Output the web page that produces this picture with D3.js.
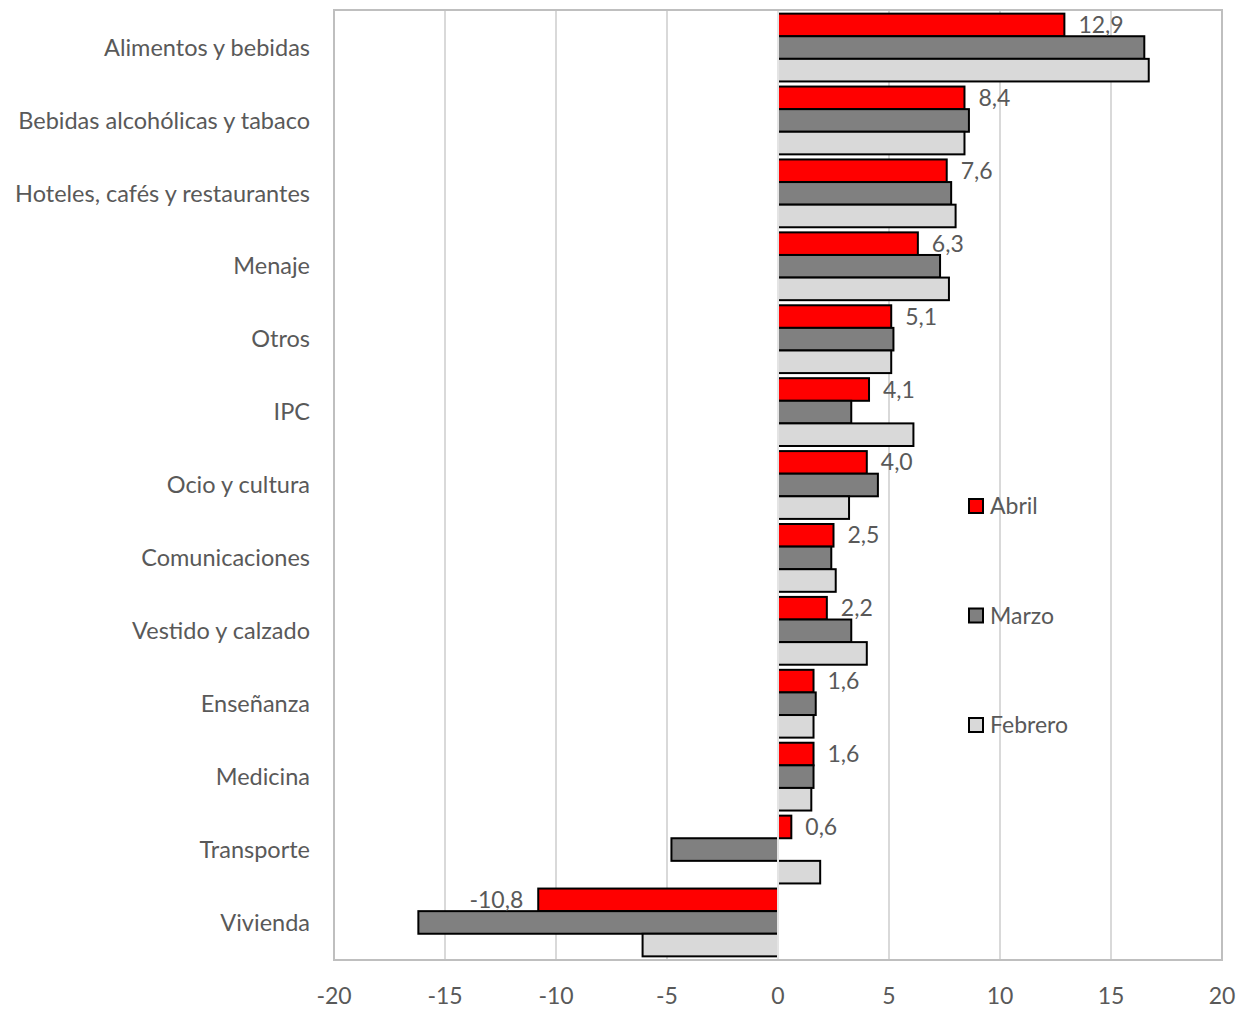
<!DOCTYPE html>
<html>
    <head>
        <meta charset="utf-8">
        <script src="https://d3js.org/d3.v7.min.js"></script>
        <style>
            body { margin: 0; background: #fff; overflow: hidden; }
            svg { display: block; }
            text { font-family: Lato, "Open Sans", sans-serif; fill: #595959; }
        </style>
    </head>
    <body>

        <script>
            var categories = ['Alimentos y bebidas', 'Bebidas alcohólicas y tabaco', 'Hoteles, cafés y restaurantes',
                              'Menaje', 'Otros', 'IPC', 'Ocio y cultura', 'Comunicaciones', 'Vestido y calzado',
                              'Enseñanza', 'Medicina', 'Transporte', 'Vivienda'];
            var abril   = [12.9, 8.4, 7.6, 6.3, 5.1, 4.1, 4.0, 2.5, 2.2, 1.6, 1.6, 0.6, -10.8];
            var marzo   = [16.5, 8.6, 7.8, 7.3, 5.2, 3.3, 4.5, 2.4, 3.3, 1.7, 1.6, -4.8, -16.2];
            var febrero = [16.7, 8.4, 8.0, 7.7, 5.1, 6.1, 3.2, 2.6, 4.0, 1.6, 1.5, 1.9, -6.1];
            var seriesNames = ['Abril', 'Marzo', 'Febrero'];
            var colors = ['#ff0000', '#808080', '#d9d9d9'];
            var ticks = [-20, -15, -10, -5, 0, 5, 10, 15, 20];

            var series = [abril, marzo, febrero];

            var margin = { top: 10, right: 17, bottom: 49, left: 334 },
                width  = 1239 - margin.left - margin.right,
                height = 1009 - margin.top - margin.bottom;

            var svg = d3.select('body')
                        .append('svg')
                        .attr('width', 1239)
                        .attr('height', 1009);

            var g = svg.append('g')
                       .attr('transform', 'translate(' + margin.left + ',' + margin.top + ')');

            var x = d3.scaleLinear().domain([-20, 20]).range([0, width]);
            var y = d3.scaleBand().domain(categories).range([0, height]).paddingInner(0.07).paddingOuter(0.05);
            var ySub = d3.scaleBand().domain(seriesNames).range([0, y.bandwidth()]);

            // gridlines
            g.selectAll('.grid')
                .data(ticks.filter(function(t) { return t !== -20 && t !== 20 && t !== 0; }))
                .enter().append('line')
                    .attr('x1', function(d) { return x(d); })
                    .attr('x2', function(d) { return x(d); })
                    .attr('y1', 0)
                    .attr('y2', height)
                    .style('stroke', '#d9d9d9')
                    .style('stroke-width', 2);

            // bars
            var groups = g.selectAll('.cat')
                .data(categories)
                .enter().append('g')
                    .attr('transform', function(d) { return 'translate(0,' + y(d) + ')'; });

            groups.selectAll('rect')
                .data(function(d, i) {
                    return seriesNames.map(function(s, j) { return { s: s, j: j, v: series[j][i] }; });
                })
                .enter().append('rect')
                    .attr('x', function(d) { return x(Math.min(0, d.v)); })
                    .attr('y', function(d) { return ySub(d.s); })
                    .attr('width', function(d) { return Math.abs(x(d.v) - x(0)); })
                    .attr('height', ySub.bandwidth())
                    .style('fill', function(d) { return colors[d.j]; })
                    .style('stroke', '#000')
                    .style('stroke-width', 2);

            // zero line over the bars
            g.append('line')
                .attr('x1', x(0)).attr('x2', x(0))
                .attr('y1', 0).attr('y2', height)
                .style('stroke', '#e4e4e4')
                .style('stroke-width', 2);

            // frame
            g.append('rect')
                .attr('x', 0).attr('y', 0)
                .attr('width', width).attr('height', height)
                .style('fill', 'none')
                .style('stroke', '#bfbfbf')
                .style('stroke-width', 2);

            // labels for Abril
            groups.append('text')
                .attr('x', function(d, i) { return abril[i] >= 0 ? x(abril[i]) + 14 : x(abril[i]) - 15; })
                .attr('y', ySub('Abril') + ySub.bandwidth() / 2)
                .attr('dy', '0.35em')
                .attr('text-anchor', function(d, i) { return abril[i] >= 0 ? 'start' : 'end'; })
                .style('font-size', '23px')
                .text(function(d, i) { return d3.format('.1f')(abril[i]).replace('.', ',').replace('−', '-'); });

            // category labels
            groups.append('text')
                .attr('x', -24)
                .attr('y', y.bandwidth() / 2)
                .attr('dy', '0.35em')
                .attr('text-anchor', 'end')
                .style('font-size', '23.5px')
                .text(function(d) { return d; });

            // x axis tick labels
            g.selectAll('.tick-label')
                .data(ticks)
                .enter().append('text')
                    .attr('x', function(d) { return x(d); })
                    .attr('y', height + 44)
                    .attr('text-anchor', 'middle')
                    .style('font-size', '23px')
                    .text(function(d) { return d; });

            // legend
            var legend = svg.selectAll('.legend')
                .data(seriesNames)
                .enter().append('g')
                    .attr('transform', function(d, i) { return 'translate(969,' + (506 + i * 109.5) + ')'; });

            legend.append('rect')
                .attr('x', 0).attr('y', -7)
                .attr('width', 14).attr('height', 14)
                .style('fill', function(d, i) { return colors[i]; })
                .style('stroke', '#000')
                .style('stroke-width', 2);

            legend.append('text')
                .attr('x', 21)
                .attr('dy', '0.35em')
                .style('font-size', '23px')
                .text(function(d) { return d; });
        </script>
    </body>
</html>
